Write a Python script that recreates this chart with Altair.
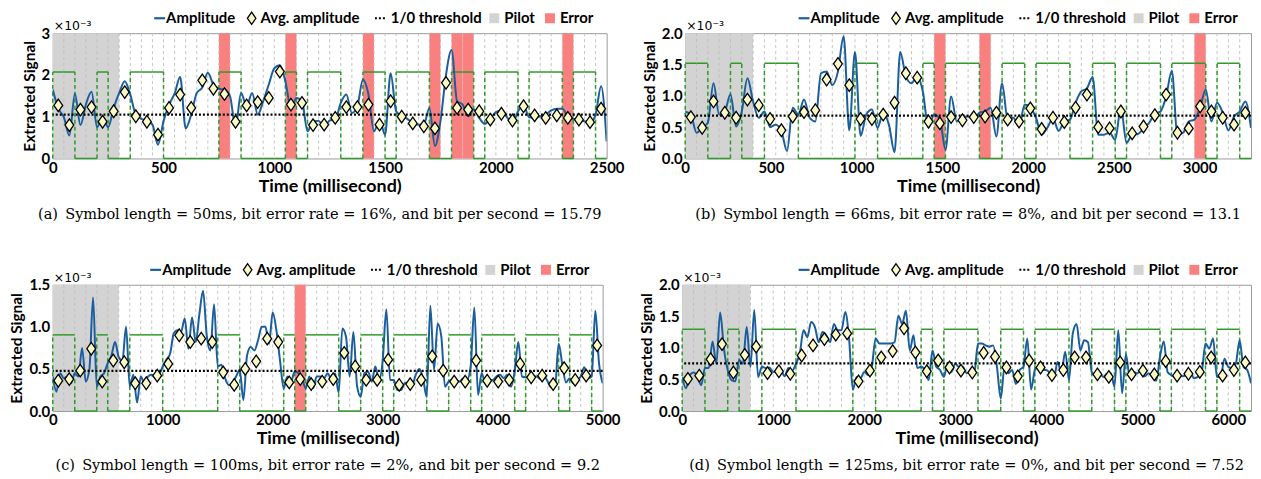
import altair as alt
import pandas as pd

# ---------------- data ----------------
BITS = [1, 1, 0, 0, 1, 0, 0, 1, 1, 1, 0, 0, 0, 0, 0, 1, 1, 0, 0, 0, 0, 1, 0, 1, 1,
        1, 0, 0, 1, 1, 0, 1, 1, 1, 0, 0, 1, 1, 0, 1, 1, 1, 0, 1, 1, 1, 0, 1, 1, 0]
PILOT_SYMBOLS = 6

A_SYM, A_T = 50, 2500
A_THR, A_HIGH = 1.05, 2.07
A_ERR = [15, 21, 28, 34, 36, 37, 46]
A_AVG = [1.27, 0.80, 1.17, 1.23, 0.88, 1.13, 1.59, 1.01, 0.88, 0.57, 1.21, 1.53, 1.21, 1.87, 1.67,
         1.54, 0.88, 1.27, 1.35, 1.45, 2.08, 1.29, 1.33, 0.80, 0.81, 0.97, 1.23, 1.23, 1.29, 0.81,
         1.37, 1.00, 0.84, 0.77, 0.72, 1.81, 1.21, 1.17, 1.13, 0.93, 1.07, 0.91, 1.25, 1.03, 0.97,
         1.03, 0.97, 0.93, 0.87, 1.19]
A_AMP = [1.65, 1.2, 0.99, 0.55, 1.55, 0.8, 1.3, 1.6, 0.75, 1.0, 0.75, 1.21, 1.57, 1.85, 1.53, 1.05,
         0.95, 0.91, 0.81, 0.33, 0.89, 1.29, 1.55, 1.95, 0.72, 1.05, 1.57, 1.70, 2.05, 1.77, 1.67,
         1.65, 1.49, 0.75, 1.57, 1.25, 1.57, 1.05, 1.37, 1.77, 2.16, 2.23, 1.85, 1.21, 1.45, 1.37,
         0.65, 0.89, 0.9,
         0.75, 0.91, 0.93, 1.33, 1.53, 1.09, 1.25, 1.89, 1.53, 0.65, 0.93, 0.57, 2.04, 1.13, 1.01,
         0.95, 0.85, 0.81, 0.81, 1.21, 0.3, 0.89, 2.0, 2.6, 1.37, 1.29, 1.01, 1.17, 0.97, 0.83,
         0.95, 1.11, 1.15, 0.99, 0.83, 1.13, 1.27, 0.99, 0.97, 1.01, 1.05, 1.15, 1.19, 1.19, 1.01,
         0.95, 0.93, 0.89, 0.85, 1.05, 1.73, 0.41]

B_SYM, B_T = 66, 3300
B_THR, B_HIGH = 0.685, 1.52
B_ERR = [22, 26, 45]
B_AVG = [0.66, 0.49, 0.91, 0.73, 0.65, 0.94, 0.85, 0.63, 0.45, 0.67, 0.74, 0.77, 1.26, 1.51, 1.17,
         0.63, 0.63, 0.70, 0.89, 1.36, 1.29, 0.59,
         0.56, 0.66, 0.61, 0.66, 0.67, 0.73, 0.62, 0.59, 0.80, 0.47, 0.65, 0.58, 0.81, 1.02, 0.50,
         0.48, 0.75, 0.40, 0.51, 0.69, 1.02, 0.41, 0.48, 0.83, 0.75, 0.65, 0.54, 0.73]
B_AMP = [0.75, 0.70, 0.41, 0.49, 0.57, 1.2, 0.70, 0.75, 1.02, 0.51, 0.75, 1.28, 0.91, 0.65, 0.75,
         0.50, 0.54, 0.44, 0.12, 0.81, 0.70, 0.94, 0.65, 0.59, 1.36, 1.39, 1.17, 1.39, 1.95, 0.45,
         1.7, 0.36, 0.70, 0.78, 0.49, 0.73, 0.54, 0.1, 1.7, 1.31, 1.2, 1.31, 1.07, 0.49, 0.70, 0.63,
         0.14, 0.99, 0.59, 0.65, 0.67, 0.62, 0.73, 0.75, 0.81, 0.35, 1.2, 0.62, 0.65, 0.51, 0.86,
         0.81, 0.65, 0.38, 0.49, 0.64, 0.44, 0.59, 0.62, 0.89, 1.07, 1.12, 1.3, 0.38, 0.38, 0.41,
         0.30, 0.81, 0.25, 0.38, 0.39, 0.48, 0.57, 0.71, 0.75, 0.99, 1.4, 0.38, 0.41, 0.59, 0.62,
         0.81, 1.10, 0.59, 0.89, 0.73, 0.45, 0.67, 0.75, 0.91, 0.49]

C_SYM, C_T = 100, 5000
C_THR, C_HIGH = 0.478, 0.905
C_ERR = [22]
C_AVG = [0.36, 0.38, 0.48, 0.74, 0.35, 0.60, 0.58, 0.33, 0.33, 0.42, 0.56, 0.90, 0.82, 0.86, 0.82,
         0.46, 0.31, 0.50, 0.59, 0.86, 0.82, 0.34, 0.38, 0.32,
         0.35, 0.38, 0.69, 0.53, 0.37, 0.37, 0.61, 0.31, 0.32, 0.37, 0.65, 0.48, 0.35, 0.35, 0.60,
         0.36, 0.35, 0.37, 0.56, 0.40, 0.42, 0.32, 0.51, 0.37, 0.42, 0.78]
C_AMP = [0.41, 0.23, 0.45, 0.39, 0.41, 0.33, 0.45, 0.41, 0.75, 0.35, 0.5, 1.35, 0.29, 0.41, 0.45,
         0.57, 0.66, 0.82, 0.64, 0.6, 1.0, 0.29, 0.43, 0.1, 0.41, 0.33, 0.41, 0.43, 0.39, 0.43,
         0.53, 0.61, 0.68, 0.92, 0.96, 0.94, 1.1, 0.74, 1.11, 0.82, 1.15, 1.43, 0.9, 0.72, 1.27,
         0.53, 0.55, 0.39, 0.31, 0.33, 0.41, 0.49, 0.13, 0.66, 0.76, 0.72, 0.84, 1.0, 1.0, 0.8,
         1.17, 0.96, 0.6, 0.27, 0.41, 0.35, 0.47, 0.45, 0.39, 0.27, 0.41, 0.27, 0.41, 0.41, 0.39,
         0.45, 0.38, 0.45, 0.22, 0.98, 0.88, 0.41, 0.94, 0.3, 0.17, 0.45, 0.47, 0.35, 0.53, 0.37,
         0.6, 1.21, 0.37, 0.37, 0.25, 0.25, 0.33, 0.34, 0.3, 0.43, 0.5, 0.39, 0.17, 1.25, 0.49,
         1.04, 0.88, 0.29, 0.35, 0.37, 0.37, 0.35, 0.39, 0.37, 0.53, 1.23, 0.19, 0.45, 0.33, 0.37,
         0.37, 0.41, 0.43, 0.39, 0.43, 0.29, 0.47, 0.82, 0.41, 0.40, 0.41, 0.41, 0.41, 0.38, 0.42,
         0.35, 0.28, 0.29, 0.8, 0.55, 0.34, 0.39, 0.33, 0.36, 0.41, 0.52, 0.39, 0.41, 1.19, 0.57,
         0.33]

D_SYM, D_T = 125, 6250
D_THR, D_HIGH = 0.755, 1.295
D_ERR = []
D_AVG = [0.51, 0.56, 0.82, 1.06, 0.61, 0.89, 1.02, 0.60, 0.63, 0.59, 0.88, 1.04, 1.14, 1.21, 1.23,
         0.47, 0.64, 0.85, 0.95, 1.31, 0.93, 0.63, 0.80,
         0.69, 0.64, 0.61, 0.92, 0.86, 0.69, 0.55, 0.80, 0.69, 0.57, 0.65, 0.85, 0.85, 0.58, 0.54,
         0.77, 0.58, 0.64, 0.58, 0.79, 0.56, 0.59, 0.62, 0.85, 0.56, 0.65, 0.77]
D_AMP = [0.54, 0.36, 0.57, 0.61, 0.55, 0.41, 0.68, 0.68, 1.1, 0.75, 1.56, 0.99, 0.65, 0.49, 0.47,
         0.81, 0.75, 1.33, 0.7, 1.6, 0.54, 0.7, 0.68, 0.69, 0.62, 0.62, 0.65, 0.55, 0.68, 0.64,
         0.75, 0.91, 1.28, 1.17, 1.41, 1.33, 1.09, 1.25, 1.2, 1.09, 1.38, 1.28, 1.28, 1.57, 1.15,
         0.34, 0.54, 0.52, 0.62, 0.57, 0.7, 1.15, 1.07, 1.07, 1.07, 1.07, 1.09, 1.51, 1.38, 1.59,
         0.96, 1.2, 0.68, 0.7, 0.65, 0.49, 0.96, 0.7, 0.65, 0.54, 0.76, 0.62, 0.75, 0.7, 0.7,
         0.6, 0.62, 0.59, 1.07, 1.07, 1.04, 1.02, 1.04, 0.7, 0.2, 0.7, 0.6, 0.65, 0.43, 0.65,
         0.7, 1.15, 0.34, 0.65, 0.7, 0.65, 0.65, 0.6, 0.52, 0.78, 0.6, 0.94, 0.49, 1.23, 1.38,
         0.96, 1.12, 1.09, 0.62, 0.57, 0.62, 0.54, 0.59, 0.6, 0.39, 1.28, 0.28, 0.9, 0.55, 0.62,
         0.6, 0.64, 0.55, 0.6, 0.54, 0.48, 0.86, 1.1, 0.62, 0.57, 0.54, 0.57, 0.55, 0.57, 0.6,
         0.52, 0.54, 0.62, 1.07, 0.99, 1.15, 0.54, 0.54, 0.83, 0.7, 0.68, 0.75, 1.12, 0.7, 0.65,
         0.44]

CAPTIONS = [
    "(a)\u2002Symbol length = 50ms, bit error rate = 16%, and bit per second = 15.79",
    "(b)\u2002Symbol length = 66ms, bit error rate = 8%, and bit per second = 13.1",
    "(c)\u2002Symbol length = 100ms, bit error rate = 2%, and bit per second = 9.2",
    "(d)\u2002Symbol length = 125ms, bit error rate = 0%, and bit per second = 7.52",
]
LEGEND_LABELS = ["Amplitude", "Avg. amplitude", "1/0 threshold", "Pilot", "Error"]

# ---------------- style ----------------
BLUE = "#1b5e9e"
GREEN = "#2f9a2a"
RED = "#fa8080"
GRAY = "#d3d3d3"
SANS = "Lato"
SERIF = "DejaVu Serif"
DIAMOND = "M0,-1L0.7,0L0,1L-0.7,0Z"
LEG_Y = -15


def deco_layers(W, H, caption, cap_dy, cap_dx):
    s = W - 455
    one = alt.Data(values=[{"k": 0}])
    txt = dict(align="left", baseline="middle", font=SANS, fontSize=15,
               fontWeight="bold", color="black")
    L = []
    L.append(alt.Chart(one).mark_rule(color=BLUE, strokeWidth=2.2).encode(
        x=alt.value(s), x2=alt.value(s + 11), y=alt.value(LEG_Y)))
    L.append(alt.Chart(one).mark_text(text=LEGEND_LABELS[0], **txt).encode(
        x=alt.value(s + 12), y=alt.value(LEG_Y)))
    L.append(alt.Chart(one).mark_point(shape=DIAMOND, size=150, filled=True, fill="#fafac8",
                                       stroke="black", strokeWidth=1.3, opacity=1).encode(
        x=alt.value(s + 98), y=alt.value(LEG_Y)))
    L.append(alt.Chart(one).mark_text(text=LEGEND_LABELS[1], **txt).encode(
        x=alt.value(s + 107), y=alt.value(LEG_Y)))
    L.append(alt.Chart(one).mark_rule(color="black", strokeWidth=2, strokeDash=[2, 2]).encode(
        x=alt.value(s + 222), x2=alt.value(s + 233), y=alt.value(LEG_Y)))
    L.append(alt.Chart(one).mark_text(text=LEGEND_LABELS[2], **txt).encode(
        x=alt.value(s + 238), y=alt.value(LEG_Y)))
    L.append(alt.Chart(one).mark_square(size=100, color=GRAY, opacity=1).encode(
        x=alt.value(s + 342), y=alt.value(LEG_Y)))
    L.append(alt.Chart(one).mark_text(text=LEGEND_LABELS[3], **txt).encode(
        x=alt.value(s + 352), y=alt.value(LEG_Y)))
    L.append(alt.Chart(one).mark_square(size=100, color=RED, opacity=1).encode(
        x=alt.value(s + 398), y=alt.value(LEG_Y)))
    L.append(alt.Chart(one).mark_text(text=LEGEND_LABELS[4], **txt).encode(
        x=alt.value(s + 408), y=alt.value(LEG_Y)))
    L.append(alt.Chart(one).mark_text(text="×10⁻³", align="left", baseline="middle",
                                      font="DejaVu Sans", fontSize=12.5, color="black").encode(
        x=alt.value(1), y=alt.value(-7)))
    L.append(alt.Chart(one).mark_text(text=caption, align="center", baseline="middle",
                                      font=SERIF, fontSize=14.6, color="black").encode(
        x=alt.value(W / 2 + cap_dx), y=alt.value(H + cap_dy)))
    return L


def panel(sym, T, ymax, yvals, yfmt, xvals, thr, high, errs, avg, amp, W, H, caption,
          cap_dy, cap_dx):
    n = len(BITS)
    xs = alt.Scale(domain=[0, T], nice=False, zero=False)
    ys = alt.Scale(domain=[0, ymax], nice=False)
    xax = alt.Axis(values=xvals, format="d", title="Time (millisecond)", labelFlush=False,
                   labelOverlap=False)
    yax = alt.Axis(values=yvals, format=yfmt, title="Extracted Signal", labelOverlap=False)

    def X(f):
        return alt.X(f, type="quantitative", scale=xs, axis=xax)

    def Y(f):
        return alt.Y(f, type="quantitative", scale=ys, axis=yax)

    layers = []
    pil = pd.DataFrame({"x0": [0], "x1": [PILOT_SYMBOLS * sym], "y0": [0], "y1": [ymax]})
    layers.append(alt.Chart(pil).mark_rect(color=GRAY).encode(
        x=X("x0"), x2="x1", y=Y("y0"), y2="y1"))
    if errs:
        er = pd.DataFrame({"x0": [k * sym for k in errs], "x1": [(k + 1) * sym for k in errs],
                           "y0": [0] * len(errs), "y1": [ymax] * len(errs)})
        layers.append(alt.Chart(er).mark_rect(color=RED).encode(
            x=X("x0"), x2="x1", y=Y("y0"), y2="y1"))
    gr = pd.DataFrame({"x": [k * sym for k in range(1, n)]})
    layers.append(alt.Chart(gr).mark_rule(color="#bdbdbd", strokeDash=[3, 3], strokeWidth=0.9)
                  .encode(x=X("x")))
    # green bit line
    hz = pd.DataFrame({"x0": [k * sym for k in range(n)], "x1": [(k + 1) * sym for k in range(n)],
                       "y": [b * high for b in BITS]})
    vx = []
    if BITS[0] == 1:
        vx.append(0)
    for k in range(1, n):
        if BITS[k] != BITS[k - 1]:
            vx.append(k * sym)
    if BITS[-1] == 1:
        vx.append(T)
    vt = pd.DataFrame({"x": vx, "y0": [0] * len(vx), "y1": [high] * len(vx)})
    layers.append(alt.Chart(hz).mark_rule(color=GREEN, strokeWidth=1.5).encode(
        x=X("x0"), x2="x1", y=Y("y")))
    layers.append(alt.Chart(vt).mark_rule(color=GREEN, strokeWidth=1.5, strokeDash=[4, 3]).encode(
        x=X("x"), y=Y("y0"), y2="y1"))
    # amplitude
    m = len(amp)
    am = pd.DataFrame({"t": [i * T / (m - 1) for i in range(m)], "v": amp})
    layers.append(alt.Chart(am).mark_line(color=BLUE, strokeWidth=2, interpolate="monotone",
                                          clip=True).encode(x=X("t"), y=Y("v")))
    th = pd.DataFrame({"y": [thr]})
    layers.append(alt.Chart(th).mark_rule(color="black", strokeWidth=2.2, strokeDash=[2, 2])
                  .encode(y=Y("y")))
    av = pd.DataFrame({"t": [(k + 0.5) * sym for k in range(n)], "v": avg})
    layers.append(alt.Chart(av).mark_point(shape=DIAMOND, size=160, filled=True, fill="#fafac8",
                                           stroke="black", strokeWidth=1.3, opacity=1).encode(
        x=X("t"), y=Y("v")))
    layers += deco_layers(W, H, caption, cap_dy, cap_dx)
    return alt.layer(*layers).properties(width=W, height=H)


pa = panel(A_SYM, A_T, 3, [0, 1, 2, 3], "d", list(range(0, 2501, 500)), A_THR, A_HIGH,
           A_ERR, A_AVG, A_AMP, 557, 126, CAPTIONS[0], 57, -10)
pb = panel(B_SYM, B_T, 2, [0, 0.5, 1, 1.5, 2], ".1f", list(range(0, 3001, 500)), B_THR, B_HIGH,
           B_ERR, B_AVG, B_AMP, 569, 126, CAPTIONS[1], 57, 0)
pc = panel(C_SYM, C_T, 1.5, [0, 0.5, 1, 1.5], ".1f", list(range(0, 5001, 1000)), C_THR, C_HIGH,
           C_ERR, C_AVG, C_AMP, 553, 127, CAPTIONS[2], 55, 0)
pd_ = panel(D_SYM, D_T, 2, [0, 0.5, 1, 1.5, 2], ".1f", list(range(0, 6001, 1000)), D_THR, D_HIGH,
            D_ERR, D_AVG, D_AMP, 572, 127, CAPTIONS[3], 55, 0)

row1 = alt.hconcat(pa, pb, spacing=17)
row2 = alt.hconcat(pc, pd_, spacing=18)

chart = alt.vconcat(row1, row2, spacing=253, bounds="flush").properties(
    padding={"left": 1, "top": -1, "right": 0, "bottom": 0}
).configure_view(
    stroke="#9a9a9a", strokeWidth=1
).configure_axis(
    domain=False, ticks=False, grid=False, labelFont=SANS, labelFontWeight="bold",
    labelFontSize=15, labelColor="black", titleFont=SANS, titleFontWeight="bold",
    titleColor="black"
).configure_axisX(
    labelPadding=2, titlePadding=2, titleFontSize=18
).configure_axisY(
    labelPadding=3, titlePadding=4, titleFontSize=15.5
)

chart.save("out.html", embed_options={"renderer": "svg", "actions": False})
